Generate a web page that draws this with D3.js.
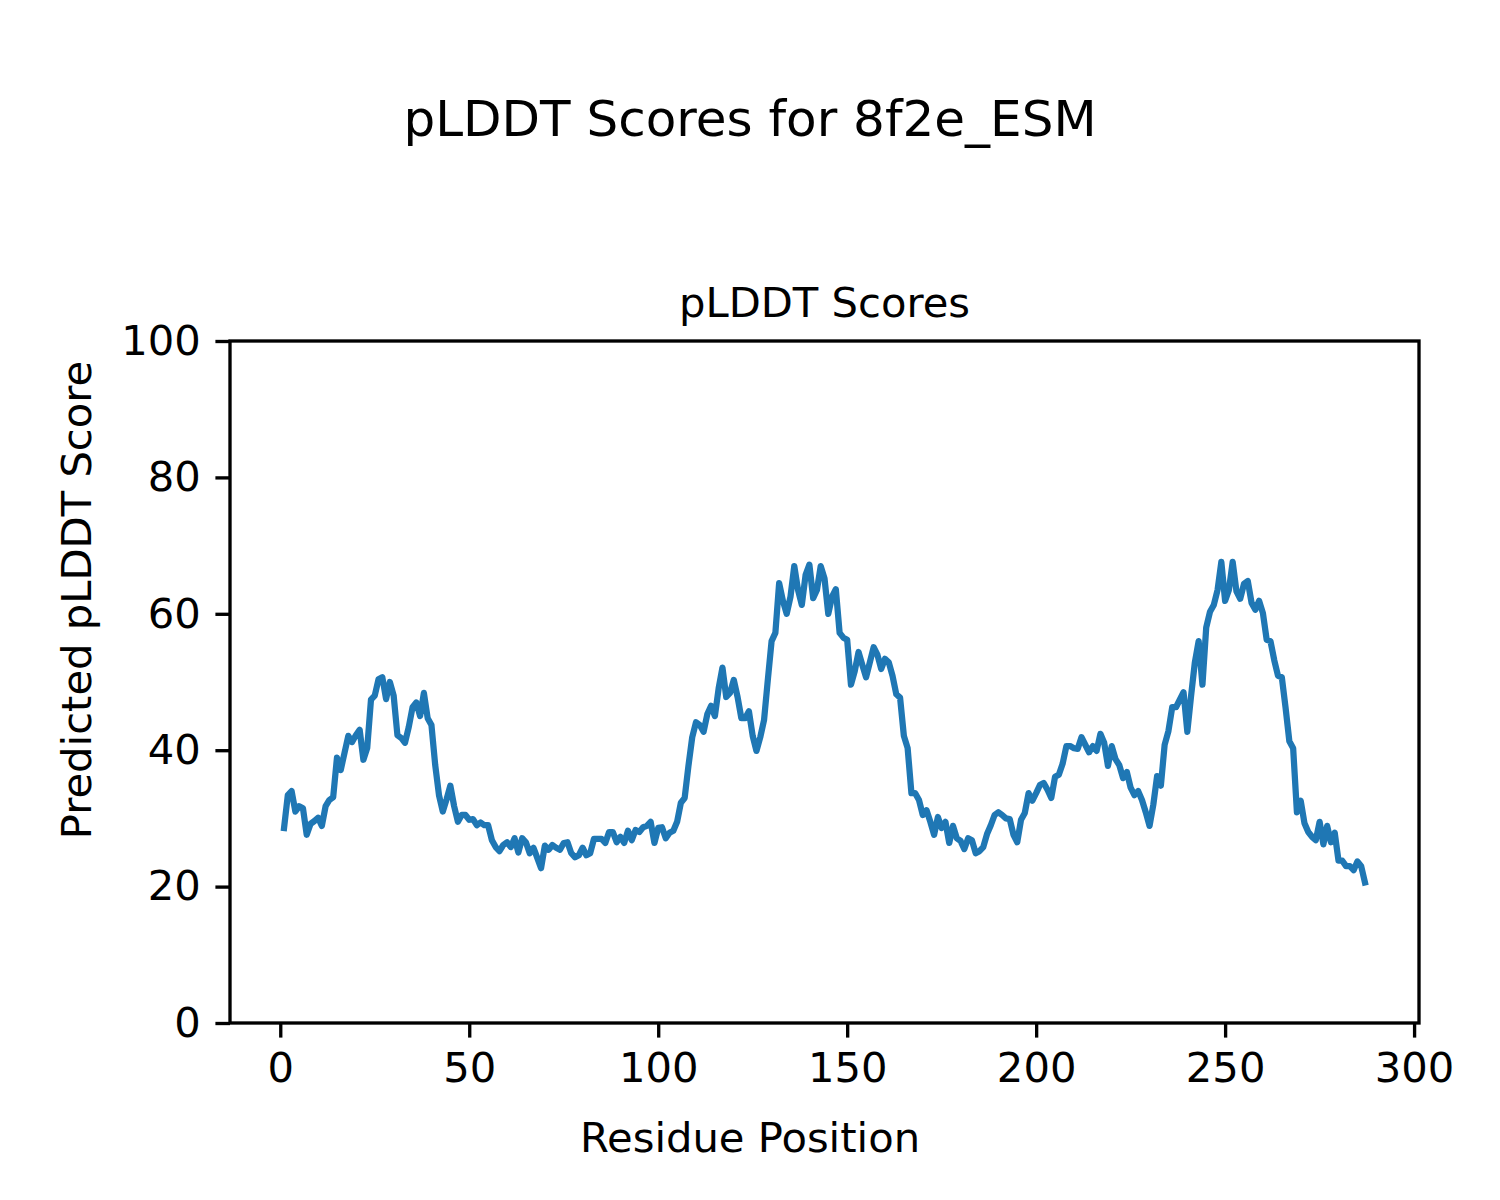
<!DOCTYPE html>
<html><head><meta charset="utf-8">
<script src="https://cdn.jsdelivr.net/npm/d3@7"></script>
<style>body{margin:0;background:#fff;} text{font-family:"DejaVu Sans",sans-serif;fill:#000;}</style>
</head><body>
<svg id="c" width="1500" height="1200"></svg>
<script>
const residues = d3.range(1, 288);
const plddt = [
28.6,33.4,34.0,31.0,31.8,31.5,27.6,29.2,29.6,30.1,
28.9,31.8,32.7,33.1,38.9,37.1,39.6,42.1,41.2,42.2,
43.0,38.6,40.3,47.4,48.0,50.4,50.7,47.5,50.0,48.0,
42.2,41.8,41.1,43.4,46.3,47.0,45.0,48.4,44.7,43.7,
37.8,33.4,31.0,32.8,34.8,31.8,29.5,30.5,30.5,29.8,
29.9,29.0,29.4,29.0,29.0,26.8,25.8,25.2,26.1,26.5,
25.8,27.1,25.0,27.1,26.5,24.9,25.7,24.2,22.7,26.0,
25.4,26.1,25.7,25.4,26.4,26.5,24.9,24.3,24.6,25.7,
24.6,24.9,27.0,27.0,27.0,26.4,28.0,28.0,26.5,27.3,
26.4,28.2,26.8,28.3,28.0,28.7,28.9,29.5,26.4,28.6,
28.7,27.1,27.9,28.2,29.5,32.3,33.0,37.7,41.9,44.1,
43.7,42.7,45.3,46.5,45.0,49.1,52.1,47.8,48.4,50.3,
47.8,44.7,44.7,45.7,42.1,39.9,41.9,44.4,50.3,56.0,
57.2,64.5,61.9,60.0,62.5,67.0,63.5,61.3,65.7,67.2,
62.3,63.5,67.0,65.2,60.0,62.5,63.6,57.2,56.5,56.2,
49.6,51.6,54.4,52.5,50.7,52.9,55.1,54.0,51.9,53.4,
52.9,50.9,48.2,47.7,42.1,40.3,33.7,33.7,32.7,30.5,
31.2,29.5,27.6,30.2,28.6,29.5,26.4,28.9,27.1,26.7,
25.5,27.1,26.8,24.9,25.2,25.8,27.7,29.0,30.5,30.9,
30.5,30.0,29.9,27.6,26.5,29.8,30.8,33.7,32.6,33.7,
34.9,35.2,34.2,33.0,36.1,36.4,38.0,40.6,40.6,40.3,
40.2,41.9,40.8,39.7,40.6,39.9,42.4,41.1,37.7,40.6,
38.7,37.8,35.9,36.8,34.5,33.4,34.0,32.7,30.9,28.9,
32.0,36.2,34.8,40.8,42.8,46.3,46.3,47.4,48.5,42.7,
48.0,52.9,56.0,49.6,58.0,60.3,61.3,63.5,67.6,61.9,
63.5,67.6,63.3,62.2,64.4,64.8,61.6,60.6,61.9,60.1,
56.2,56.0,53.2,50.9,50.7,46.2,41.3,40.3,30.9,32.6,
29.3,28.0,27.3,26.8,29.5,26.2,28.9,26.5,27.9,23.8,
23.8,23.0,23.0,22.4,23.7,23.0,20.6
];
const xTicks = [0, 50, 100, 150, 200, 250, 300];
const yTicks = [0, 20, 40, 60, 80, 100];

const svg = d3.select("#c");
const L = 230, R = 1419, T = 341, B = 1023;
const pad = (287 - 1) * 0.05;
const x = d3.scaleLinear().domain([1 - pad, 287 + pad]).range([L, R]);
const y = d3.scaleLinear().domain([0, 100]).range([B, T]);
const fs = 41.7;

svg.append("text").attr("x", 750).attr("y", 136).attr("text-anchor", "middle")
  .style("font-size", "50px").text("pLDDT Scores for 8f2e_ESM");
svg.append("text").attr("x", (L + R) / 2).attr("y", 317).attr("text-anchor", "middle")
  .style("font-size", fs + "px").text("pLDDT Scores");

const line = d3.line().x((d, i) => x(residues[i])).y(d => y(d));
svg.append("path").datum(plddt).attr("d", line).attr("fill", "none")
  .attr("stroke", "#1f77b4").attr("stroke-width", 6.25).attr("stroke-linejoin", "round").attr("stroke-linecap", "square");

const xa = svg.append("g").attr("transform", `translate(0,${B})`)
  .call(d3.axisBottom(x).tickValues(xTicks).tickSize(14.6).tickPadding(14.6).tickFormat(d3.format("d")));
const ya = svg.append("g").attr("transform", `translate(${L},0)`)
  .call(d3.axisLeft(y).tickValues(yTicks).tickSize(14.6).tickPadding(14.6).tickFormat(d3.format("d")));
[xa, ya].forEach(g => {
  g.select(".domain").remove();
  g.selectAll("line").attr("stroke", "#000").attr("stroke-width", 3.33);
  g.selectAll("text").style("font-size", fs + "px").style("font-family", '"DejaVu Sans",sans-serif');
});
svg.append("rect").attr("x", L).attr("y", T).attr("width", R - L).attr("height", B - T)
  .attr("fill", "none").attr("stroke", "#000").attr("stroke-width", 3.33);

svg.append("text").attr("x", 750).attr("y", 1152).attr("text-anchor", "middle")
  .style("font-size", fs + "px").text("Residue Position");
svg.append("text").attr("transform", "translate(91,600) rotate(-90)").attr("text-anchor", "middle")
  .style("font-size", fs + "px").text("Predicted pLDDT Score");
</script>
</body></html>
